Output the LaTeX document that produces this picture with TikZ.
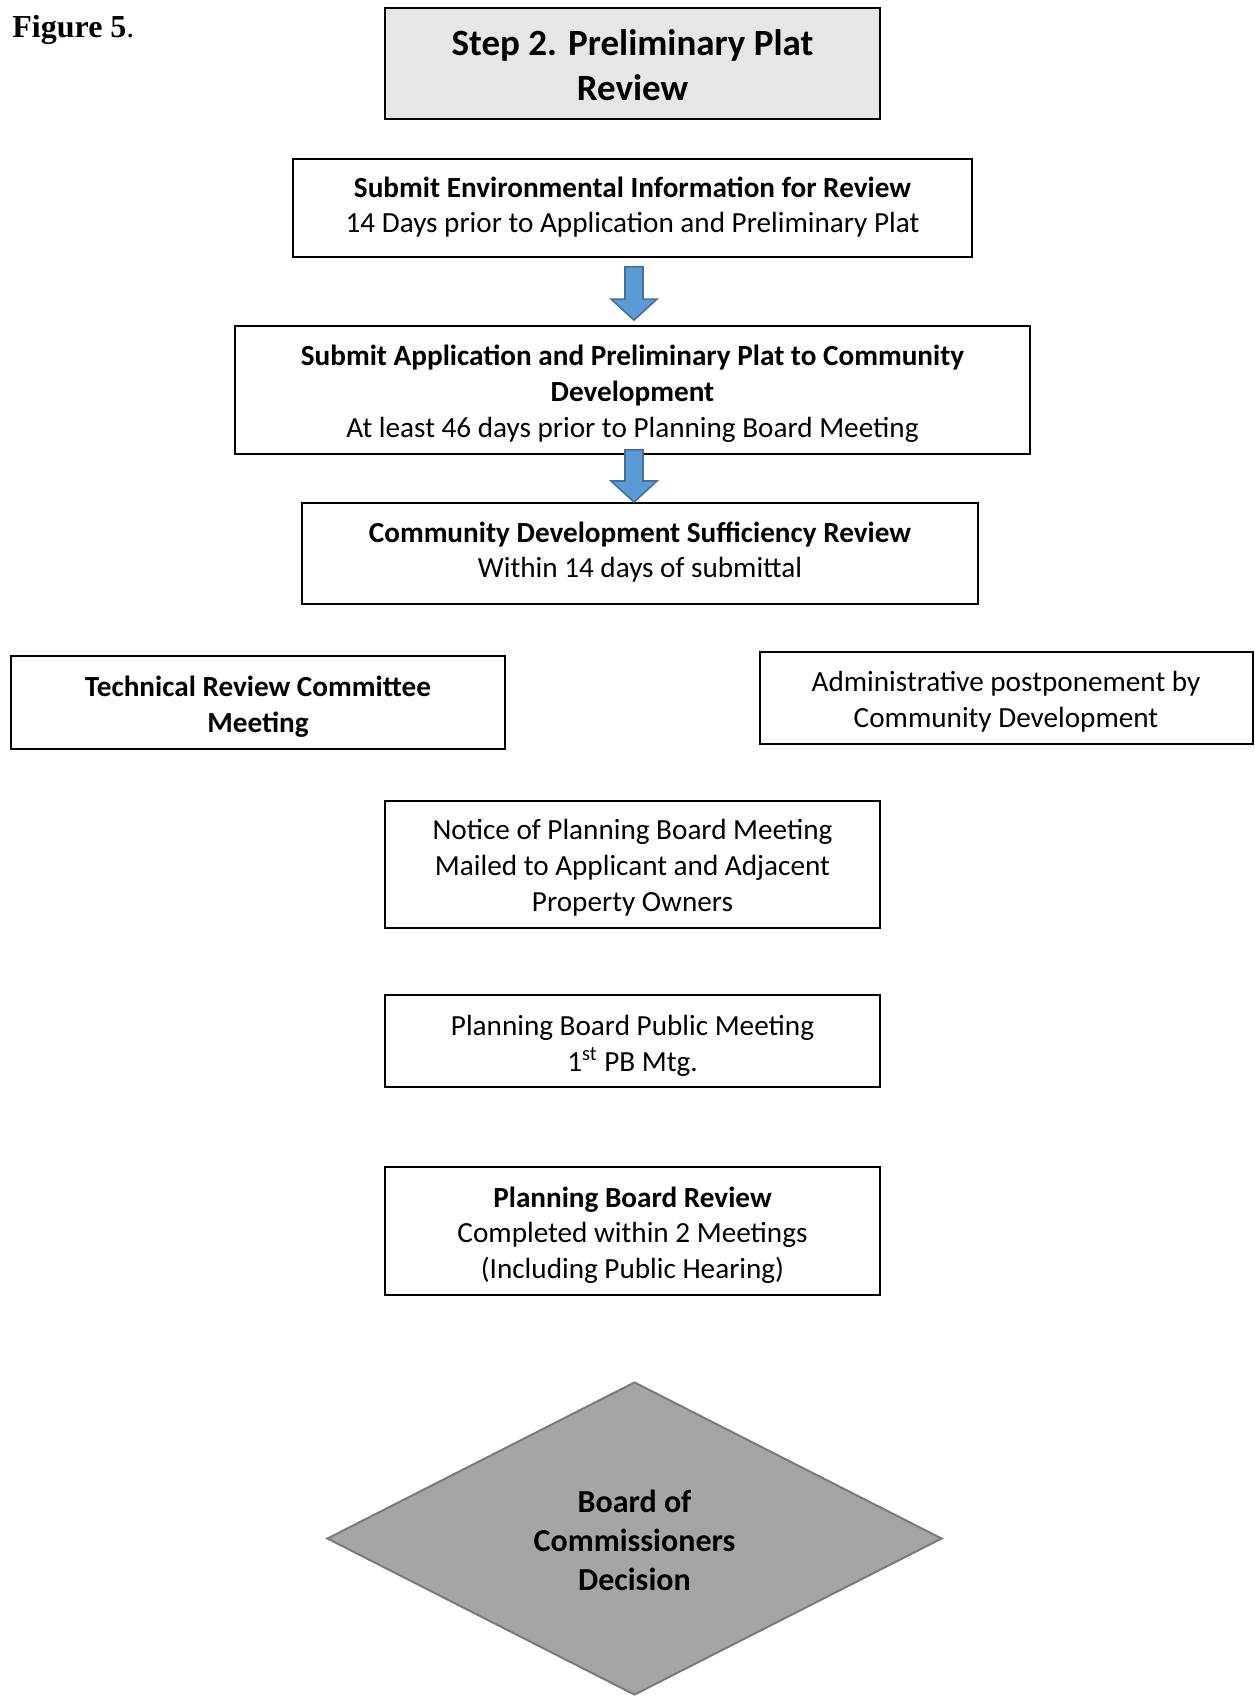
\documentclass[tikz,border=0pt]{standalone}
\usepackage{fontspec}
\setmainfont{Carlito}
\newfontfamily\timesfont{Liberation Serif}
\usetikzlibrary{shapes.geometric,calc}
\definecolor{titlegray}{HTML}{E7E6E6}
\definecolor{decgray}{HTML}{A5A5A5}
\definecolor{decborder}{HTML}{7A7A7A}
\definecolor{arrowblue}{HTML}{5B9BD5}
\definecolor{arrowborder}{HTML}{41719C}
\tikzset{
  flowbox/.style={draw=black, line width=1pt, rectangle, inner sep=0pt},
  bodytext/.style={inner sep=0pt, align=center, font=\fontsize{14.6}{17.9}\selectfont},
  titlebox/.style={flowbox, fill=titlegray},
  titletext/.style={inner sep=0pt, align=center, font=\fontsize{18.5}{22.3}\selectfont\bfseries},
  decbox/.style={diamond, draw=decborder, fill=decgray, line width=1pt, inner sep=0pt,
    align=center, font=\fontsize{16}{19.5}\selectfont\bfseries},
  bluearrow/.style={fill=arrowblue, draw=arrowborder, line width=0.8pt, line join=miter}
}
\newcommand{\blockarrow}[2]{%
  \path[bluearrow] let \p1=(#1), \p2=(#2) in
    (\x1-4.5pt,\y1) -- (\x1+4.5pt,\y1) -- (\x1+4.5pt,\y2+10.5pt) -- (\x1+11.5pt,\y2+10.5pt)
    -- (\x1,\y2) -- (\x1-11.5pt,\y2+10.5pt) -- (\x1-4.5pt,\y2+10.5pt) -- cycle;}
\begin{document}
\begin{tikzpicture}[x=0.5pt,y=-0.5pt]
\useasboundingbox (0,0) rectangle (1254,1697);

\node[anchor=base west, inner sep=0pt] (fig) at (12,37)
  {\timesfont\fontsize{16}{19}\selectfont\bfseries Figure 5\mdseries.};

\node[titlebox, minimum width=247.5pt, minimum height=55.7pt] (title) at (632.5,63.3) {};
\node[titletext] (title-t) at ($(title)+(0,2)$) {Step 2. Preliminary Plat\\Review};

\node[flowbox, minimum width=339.5pt, minimum height=49.2pt] (env) at (632.5,208) {};
\node[bodytext] (env-t) at ($(env)+(0,-1)$)
  {\textbf{Submit Environmental Information for Review}\\14 Days prior to Application and Preliminary Plat};

\node[flowbox, minimum width=397.5pt, minimum height=64.4pt] (app) at (632.5,390) {};
\node[bodytext] (app-t) at ($(app)+(0,3.5)$)
  {\textbf{Submit Application and Preliminary Plat to Community}\\\textbf{Development}\\At least 46 days prior to Planning Board Meeting};

\node[flowbox, minimum width=338pt, minimum height=50.5pt] (suff) at (640,553.5) {};
\node[bodytext] (suff-t) at ($(suff)+(0,-1.5)$)
  {\textbf{Community Development Sufficiency Review}\\Within 14 days of submittal};

\node[flowbox, minimum width=247pt, minimum height=46.5pt] (trc) at (258,702.5) {};
\node[bodytext] (trc-t) at ($(trc)+(0,4)$)
  {\textbf{Technical Review Committee}\\\textbf{Meeting}};

\node[flowbox, minimum width=246.5pt, minimum height=46pt] (admin) at (1006,698) {};
\node[bodytext] (admin-t) at ($(admin)+(0,4)$)
  {Administrative postponement by\\Community Development};

\node[flowbox, minimum width=247.5pt, minimum height=63.8pt] (notice) at (632.5,864.5) {};
\node[bodytext] (notice-t) at ($(notice)+(0,3)$)
  {Notice of Planning Board Meeting\\Mailed to Applicant and Adjacent\\Property Owners};

\node[flowbox, minimum width=247.5pt, minimum height=46pt] (pbpub) at (632.5,1041.4) {};
\node[bodytext] (pbpub-t) at ($(pbpub)+(0,4.5)$)
  {Planning Board Public Meeting\\1\textsuperscript{st} PB Mtg.};

\node[flowbox, minimum width=247.5pt, minimum height=63.8pt] (pbrev) at (632.5,1231.2) {};
\node[bodytext] (pbrev-t) at ($(pbrev)+(0,4)$)
  {\textbf{Planning Board Review}\\Completed within 2 Meetings\\(Including Public Hearing)};

\node[decbox, minimum width=307.5pt, minimum height=156.5pt, shape aspect=1.96] (dec) at (634.5,1538.5) {};
\node[inner sep=0pt, align=center, font=\fontsize{16}{19.5}\selectfont\bfseries] (dec-t) at ($(dec)+(0,2)$)
  {Board of\\Commissioners\\Decision};

\coordinate (a1s) at ($(env.south)+(1.5,8.5)$);
\coordinate (a1e) at ($(app.north)+(1.5,-4.5)$);
\coordinate (a2s) at ($(app.south)+(1.5,-5.5)$);
\coordinate (a2e) at ($(suff.north)+(-6,0)$);
\blockarrow{a1s}{a1e}
\blockarrow{a2s}{a2e}
\end{tikzpicture}
\end{document}
